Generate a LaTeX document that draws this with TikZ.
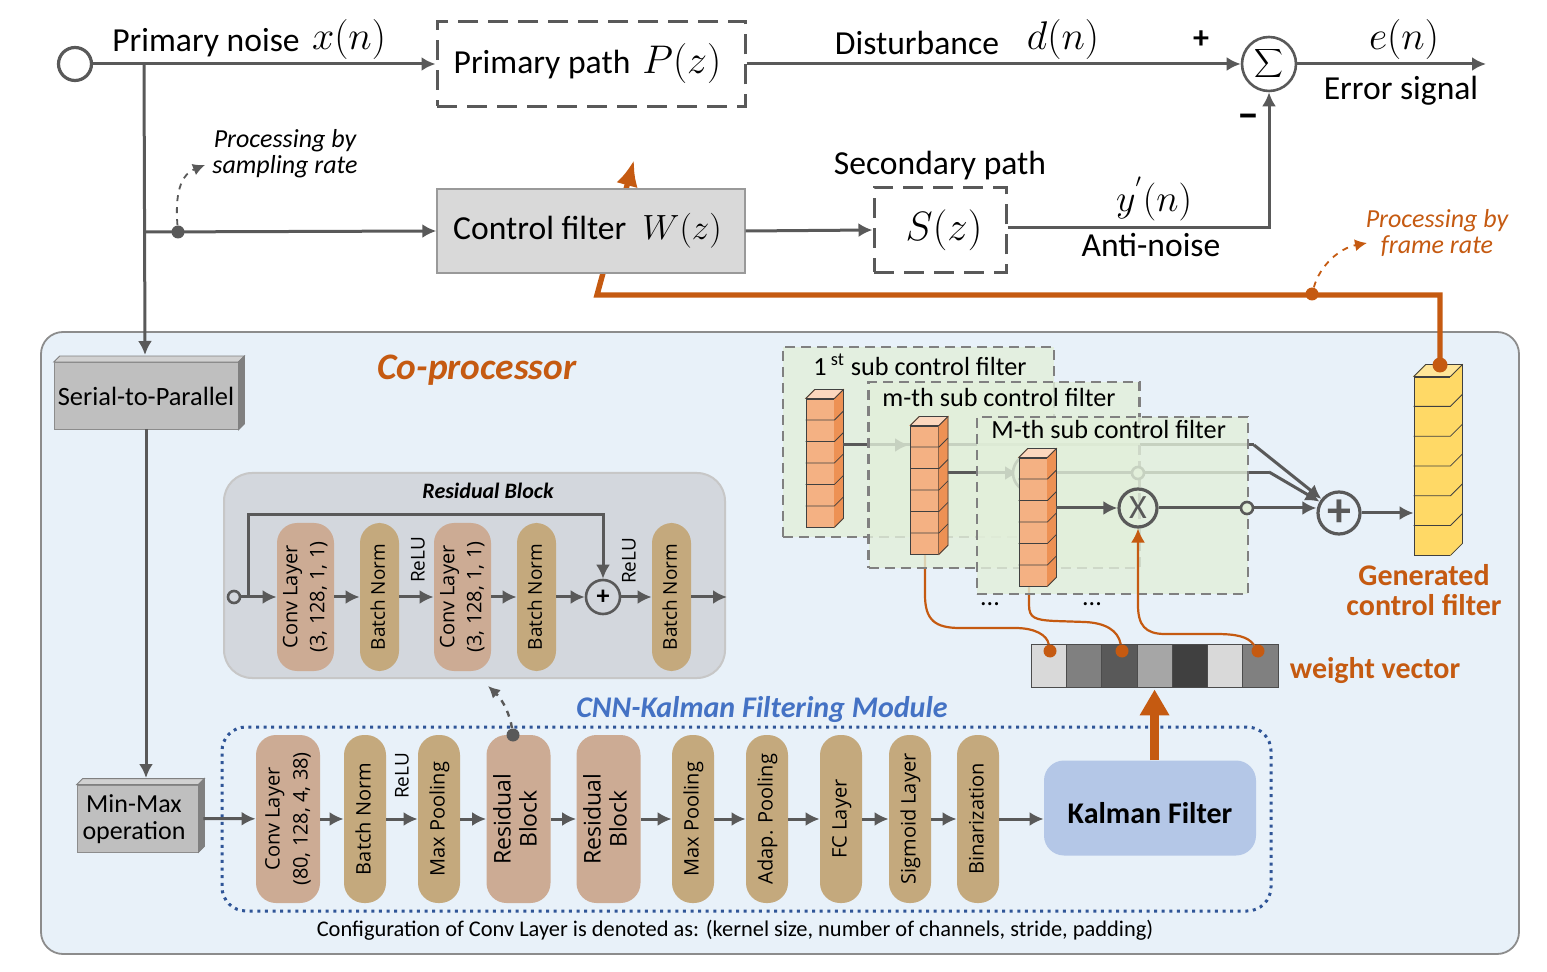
\documentclass[tikz,border=0pt]{standalone}
\usepackage{fix-cm}
\usepackage{fontspec}
\setmainfont{Carlito}
\newfontfamily\pillfont{Open Sans}
\usetikzlibrary{arrows.meta,calc}
\definecolor{myline}{RGB}{89,89,89}
\definecolor{myorange}{RGB}{197,90,17}
\definecolor{myblue}{RGB}{68,114,196}
\definecolor{mydotblue}{RGB}{47,85,151}
\definecolor{mypanel}{RGB}{232,241,249}
\definecolor{myresidual}{RGB}{211,215,221}
\definecolor{mypink}{RGB}{204,171,148}
\definecolor{mytan}{RGB}{196,169,125}
\definecolor{mykalman}{RGB}{180,199,231}
\definecolor{mysub}{RGB}{226,239,218}
\definecolor{mypeach}{RGB}{244,177,131}
\definecolor{mypeachside}{RGB}{237,145,84}
\definecolor{mypeachtop}{RGB}{251,215,190}
\definecolor{myyellow}{RGB}{255,217,102}
\definecolor{myyellowtop}{RGB}{255,230,153}
\newcommand{\widthpill}{21pt}
\newcommand{\widthpillwide}{32pt}
\newcommand{\vlabel}[1]{\rotatebox{90}{\begin{tabular}{@{}c@{}}#1\end{tabular}}}
\newcommand{\slabfaces}[4]{
    \filldraw[draw=#3, fill=#4, thin] (#1.north west) -- ++(#2,-#2) -- ($(#1.north east)+(#2,-#2)$) -- (#1.north east) -- cycle;
    \filldraw[draw=#3, fill=#3, thin] (#1.north east) -- ++(#2,-#2) -- ($(#1.south east)+(#2,-#2)$) -- (#1.south east) -- cycle;
}
\newcommand{\celldividers}[3]{
    \foreach \i in {0,...,5}
        \draw[#3, thin] ($(#1.north west)!\i/6!(#1.south west)$) -- ($(#1.north east)!\i/6!(#1.south east)$) -- ++(#2,-#2);
    \draw[#3, thin] (#1.north west) -- ++(#2,-#2) -- ($(#1.north east)+(#2,-#2)$) -- ($(#1.south east)+(#2,-#2)$) -- (#1.south east);
}
\tikzset{
    textA/.style={font=\fontsize{16.8}{18}\selectfont, inner sep=0pt},
    mathA/.style={font=\fontsize{20}{22}\selectfont, inner sep=0pt},
    flow/.style={myline, line width=1.5pt, -{Latex[length=7pt,width=7pt]}},
    flowthin/.style={myline, line width=1.5pt},
    linkdash/.style={dashed, -{Latex[length=6pt,width=6pt]}},
    pathbox/.style={draw=myline, line width=1.5pt, dash pattern=on 10pt off 5pt, minimum height=42.5pt, inner sep=0pt},
    slab/.style={draw=black!45, fill=black!25, thin, inner sep=0pt},
    pill/.style={rectangle, rounded corners=10pt, minimum height=84pt, inner sep=0pt, font=\pillfont\fontsize{10}{14}\selectfont},
    pink/.style={pill, fill=mypink, minimum width=\widthpillwide},
    tan/.style={pill, fill=mytan, minimum width=\widthpill},
    pinksmall/.style={pink, minimum width=28.5pt, minimum height=74pt, font=\pillfont\fontsize{10}{13.5}\selectfont},
    tansmall/.style={tan, minimum width=19.5pt, minimum height=74pt, font=\pillfont\fontsize{9.5}{13.5}\selectfont},
    relu/.style={rotate=90, inner sep=0pt, font=\pillfont\fontsize{9.5}{12}\selectfont},
    dot/.style={circle, fill=#1, minimum size=6.5pt, inner sep=0pt},
    subbox/.style={draw=black!50, line width=1.2pt, dash pattern=on 5pt off 3pt, fill=mysub, fill opacity=.8, minimum width=135.5pt, inner sep=0pt},
    sublabel/.style={anchor=west, inner sep=0pt, font=\fontsize{13.1}{15}\selectfont},
    column/.style={draw=black!75, thin, minimum width=14pt, minimum height=64pt, inner sep=0pt, fill=mypeach},
    ring/.style={circle, draw=myline, line width=1.3pt, inner sep=0pt},
    orangetext/.style={myorange, font=\bfseries\fontsize{15}{17}\selectfont, align=center, inner sep=0pt},
    curve/.style={myorange, line width=1.1pt},
    weightcell/.style={draw=black!70, thin, minimum width=17.65pt, minimum height=21.5pt, inner sep=0pt}
}
\begin{document}
\begin{tikzpicture}[x=.5pt, y=-.5pt]
    \useasboundingbox (0,0) rectangle (1547,972);

    \node[draw=black!45, line width=.9pt, fill=mypanel, rounded corners=11pt, minimum width=739pt, minimum height=311pt, inner sep=0pt] (coprocessor) at (780,643) {};
    \node[myorange, inner sep=0pt, font=\bfseries\itshape\fontsize{18.7}{20}\selectfont] (coprocessorlabel) at (477,370) {Co-processor};

    \node[circle, draw=myline, line width=1.6pt, minimum size=16.5pt, inner sep=0pt] (start) at (75,64) {};
    \node[textA] (noiselabel) at (206,43) {Primary noise};
    \node[mathA] (noisemath) at (349,40) {$x(n)$};
    \node[pathbox, minimum width=154pt] (primary) at (591,64) {\fontsize{16.8}{18}\selectfont Primary path\hspace{6pt}{\fontsize{20}{22}\selectfont$P(z)$}\hspace{3.5pt}\null};
    \node[textA] (disturbance) at (917,43) {Disturbance};
    \node[mathA] (disturbancemath) at (1063,40) {$d(n)$};
    \node[textA, font=\bfseries\fontsize{16}{18}\selectfont] (pluslabel) at (1201,40) {+};
    \node[textA, font=\bfseries\fontsize{22}{22}\selectfont] (minuslabel) at (1248,121) {--};
    \node[ring, minimum size=27pt, font=\fontsize{12}{14}\selectfont] (sum) at (1269,64) {$\displaystyle\sum$};
    \node[mathA] (errormath) at (1404,40) {$e(n)$};
    \node[textA] (errorlabel) at (1401,91) {Error signal};
    \coordinate (errorend) at (1486,64);
    \node[textA] (secondarylabel) at (940,166) {Secondary path};
    \node[mathA, font=\fontsize{19}{20}\selectfont] (antimath) at (1154,199) {$y^{'}(n)$};
    \node[textA] (antilabel) at (1151,245) {Anti-noise};

    \coordinate (tapnoise) at (144,64);
    \coordinate (tapcontrol) at (144,232);
    \coordinate (serialtop) at (145,355);
    \coordinate (feedin) at (597,295);
    \coordinate (feedtip) at (634,160);
    \node[dot=myorange] (outdot) at (1440,365) {};
    \draw[myorange, line width=2.7pt, -{Latex[length=13pt,width=11pt]}] (outdot) |- (feedin) -- (feedtip);

    \node[draw=black!40, line width=.7pt, fill=black!15, minimum width=154pt, minimum height=42pt, inner sep=0pt] (control) at (591,231) {\fontsize{16.8}{18}\selectfont Control filter\hspace{8pt}{\fontsize{17.5}{20}\selectfont$W(z)$}\hspace{3.5pt}\null};
    \node[pathbox, minimum width=66pt, font=\fontsize{20.5}{22}\selectfont] (secondary) at (940,230) {\hspace{4pt}$S(z)$};

    \draw[flow] (start) -- (primary.west);
    \draw[flow] (primary.east) -- (sum.west);
    \draw[flow] (sum.east) -- (errorend);
    \draw[flow] (tapnoise) -- (serialtop);
    \draw[flow] (tapcontrol) -- (control.west);
    \draw[flow] (control.east) -- (secondary.west);
    \draw[flow] ([yshift=1pt]secondary.east) -| (sum.south);

    \node[dot=myline] (samplingdot) at (178,232) {};
    \coordinate (samplingtip) at (205,165);
    \draw[linkdash, myline, line width=.9pt] (samplingdot) .. controls (175,195) and (180,175) .. (samplingtip);
    \node[inner sep=0pt, align=center, font=\itshape\fontsize{13}{13}\selectfont] (samplinglabel) at (285,154) {Processing by\\sampling rate};

    \node[dot=myorange] (framedot) at (1312,294) {};
    \coordinate (frametip) at (1367,243);
    \draw[linkdash, myorange, line width=.9pt] (framedot) .. controls (1320,265) and (1340,248) .. (frametip);
    \node[myorange, inner sep=0pt, align=center, font=\itshape\fontsize{13}{13}\selectfont] (framelabel) at (1437,233) {Processing by\\frame rate};

    \node[slab, minimum width=92pt, minimum height=33.5pt, font=\fontsize{13.2}{15}\selectfont] (serial) at (146,396) {Serial-to-Parallel};
    \slabfaces{serial}{6}{black!50}{black!18}
    \node[slab, minimum width=60.5pt, minimum height=33.5pt, font=\fontsize{13}{13.5}\selectfont] (minmax) at (137.5,818.5) {\raisebox{-9pt}{\smash{\begin{tabular}[c]{@{}c@{\hspace{3.5pt}}}Min-Max\\operation\end{tabular}}}};
    \slabfaces{minmax}{6}{black!50}{black!18}
    \coordinate (minmaxtop) at (146,778);
    \coordinate (serialout) at (146,429);
    \draw[flow] (serialout) -- (minmaxtop);

    \node[draw=black!22, line width=1pt, fill=myresidual, rounded corners=14pt, minimum width=250.5pt, minimum height=102.5pt, inner sep=0pt] (residual) at (474.5,575.5) {};
    \node[inner sep=0pt, font=\bfseries\itshape\fontsize{11}{13}\selectfont] (residuallabel) at (488,491) {Residual Block};
    \path
        (305.5,597) node[pinksmall] (rconvA) {\vlabel{Conv Layer\\(3, 128, 1, 1)}}
        ++(74,0) node[tansmall] (rnormA) {\vlabel{Batch Norm}}
        ++(83,0) node[pinksmall] (rconvB) {\vlabel{Conv Layer\\(3, 128, 1, 1)}}
        ++(74,0) node[tansmall] (rnormB) {\vlabel{Batch Norm}}
        ++(135,0) node[tansmall] (rnormC) {\vlabel{Batch Norm}};
    \node[relu] (rreluA) at (418,560) {ReLU};
    \node[relu] (rreluB) at (629,561) {ReLU};
    \node[ring, fill=myresidual, minimum size=17pt, font=\bfseries\fontsize{13}{14}\selectfont] (rplus) at (603,597) {+};
    \node[ring, fill=myresidual, minimum size=6pt] (rstart) at (234,597) {};
    \coordinate (rend) at (727,597);
    \coordinate (rskip) at (248,597);
    \draw[flow] (rstart) -- (rconvA);
    \foreach \from/\to in {rconvA/rnormA, rnormA/rconvB, rconvB/rnormB, rnormB/rplus, rplus/rnormC, rnormC/rend}
        \draw[flow] (\from) -- (\to);
    \draw[flow] (rskip) -- ++(0,-82) -| (rplus.north);

    \node[myblue, inner sep=0pt, font=\bfseries\itshape\fontsize{15}{18}\selectfont] (cnnlabel) at (762,710) {CNN-Kalman Filtering Module};
    \node[draw=mydotblue, line width=1.5pt, dash pattern=on 1.5pt off 2.3pt, rounded corners=12pt, minimum width=524.5pt, minimum height=92pt, inner sep=0pt] (cnn) at (746.5,819) {};
    \path
        (288,819) node[pink] (conv) {\vlabel{Conv Layer\\(80, 128, 4, 38)}}
        ++(77,0) node[tan] (norm) {\vlabel{Batch Norm}}
        ++(74,0) node[tan] (maxA) {\vlabel{Max Pooling}}
        ++(79.5,0) node[pink, font=\pillfont\fontsize{11.5}{13}\selectfont] (blockA) {\vlabel{Residual\\Block}}
        ++(90,0) node[pink, font=\pillfont\fontsize{11.5}{13}\selectfont] (blockB) {\vlabel{Residual\\Block}}
        ++(84.5,0) node[tan] (maxB) {\vlabel{Max Pooling}}
        ++(74,0) node[tan] (adap) {\vlabel{Adap. Pooling}}
        ++(74,0) node[tan] (fc) {\vlabel{FC Layer}}
        ++(69,0) node[tan] (sigmoid) {\vlabel{Sigmoid Layer}}
        ++(68,0) node[tan] (binary) {\vlabel{Binarization}};
    \node[relu] (relu) at (402,776) {ReLU};
    \node[fill=mykalman, rounded corners=10pt, minimum width=106pt, minimum height=47.5pt, inner sep=0pt, font=\bfseries\fontsize{15}{18}\selectfont] (kalman) at (1150,808) {\raisebox{-15.5pt}{\smash{Kalman Filter}}};
    \draw[flow] ([xshift=2.5pt]minmax.east) -- (conv);
    \foreach \from/\to in {conv/norm, norm/maxA, maxA/blockA, blockA/blockB, blockB/maxB, maxB/adap, adap/fc, fc/sigmoid, sigmoid/binary}
        \draw[flow] (\from) -- (\to);
    \draw[flow] (binary) -- (kalman.west |- binary);
    \node[dot=myline] (blockdot) at (513,735) {};
    \coordinate (blocktip) at (488,686);
    \draw[linkdash, myline, line width=1.2pt] (blockdot) .. controls (510,715) and (503,700) .. (blocktip);
    \node[inner sep=0pt, font=\fontsize{11.2}{14}\selectfont] (configlabel) at (735,930) {Configuration of Conv Layer is denoted as: (kernel size, number of channels, stride, padding)};

    \foreach \shade [count=\i] in {15,50,65,35,75,15,50}
        \node[weightcell, fill=black!\shade] (w\i) at ({1013.35+35.3*\i},665.5) {};
    \draw[myorange, line width=4.5pt, shorten >=1pt, -{Triangle[length=13pt,width=14pt]}] (kalman.north -| w4.south) -- (w4.south);
    \node[dot=myorange] (wdotA) at (1050,651) {};
    \node[dot=myorange] (wdotB) at (1122,651) {};
    \node[dot=myorange] (wdotC) at (1258,651) {};
    \node[orangetext] (weightlabel) at (1375,671) {weight vector};
    \node[orangetext, font=\bfseries\fontsize{15}{15}\selectfont] (generatedlabel) at (1424,590) {Generated\\control filter};

    \coordinate (tapm) at (925,554);
    \coordinate (tapM) at (1029,586);
    \coordinate (outone) at (843,445);
    \coordinate (tipone) at (909,445);
    \coordinate (outm) at (948,473);
    \coordinate (tipm) at (1019,473);
    \coordinate (linkone) at (1254,445);
    \coordinate (linkm) at (1269,472);
    \node[ring, line width=1.6pt, minimum size=21pt, text=myline, font=\bfseries\fontsize{24}{24}\selectfont] (plus) at (1339,513) {+};

    \node[subbox, minimum height=95pt] (boxone) at (918.5,442) {};
    \node[sublabel] (labelone) at (813,365) {1\textsuperscript{ st} sub control filter};
    \node[column] (colone) at (820,463) {};
    \slabfaces{colone}{9}{mypeachside}{mypeachtop}
    \celldividers{colone}{9}{black!75}
    \draw[flow] (outone) -- (tipone);
    \draw[flowthin] (outone) -- (linkone);
    \draw[flow] (linkone) -- (plus);
    \draw[curve] (tapm) -- (925,595) .. controls (925,620) and (935,628) .. (960,628) -- (1015,628) .. controls (1035,628) and (1047,635) .. (wdotA);

    \node[subbox, minimum height=93pt] (boxm) at (1004,475) {};
    \node[sublabel] (labelm) at (882,398) {m-th sub control filter};
    \node[column] (colm) at (924.5,490) {};
    \slabfaces{colm}{9}{mypeachside}{mypeachtop}
    \celldividers{colm}{9}{black!75}
    \draw[flow] (outm) -- (tipm);
    \draw[flowthin] (outm) -- (linkm |- outm) -- (linkm);
    \draw[flow] (linkm) -- (plus);
    \node[ring, minimum size=19pt, fill=mysub] (xm) at (1032,473) {};
    \node[ring, minimum size=6pt, fill=mysub] (junctionm) at (1138,473) {};
    \draw[curve] (tapM) -- (1029,605) .. controls (1029,618) and (1035,620) .. (1055,621) -- (1085,622) .. controls (1105,623) and (1118,630) .. (wdotB);

    \node[subbox, minimum height=88.5pt] (boxM) at (1112.5,505.5) {};
    \node[sublabel] (labelM) at (991,430) {M-th sub control filter};
    \node[column] (colM) at (1033,522) {};
    \slabfaces{colM}{9}{mypeachside}{mypeachtop}
    \celldividers{colM}{9}{black!75}
    \node[ring, line width=1.6pt, minimum size=19pt, text=myline, font=\fontsize{17}{18}\selectfont] (times) at (1138,508) {X};
    \coordinate (outM) at (1056,508);
    \node[ring, minimum size=6pt, fill=mysub] (junctionM) at (1247,508) {};
    \draw[flow] (outM) -- (times);
    \draw[flowthin] (times) -- (junctionM);
    \draw[flow] (junctionM) -- ([yshift=2.5pt]plus.west);
    \draw[curve, -{Latex[length=7pt,width=7pt]}] (wdotC) .. controls (1248,636) and (1235,634) .. (1215,634) -- (1165,634) .. controls (1145,634) and (1138,625) .. (1138,605) -- (times);

    \node[column, minimum width=18pt, minimum height=89pt, fill=myyellow] (colout) at (1432,466) {};
    \slabfaces{colout}{12}{myyellow}{myyellowtop}
    \celldividers{colout}{12}{black!75}
    \draw[flow] (plus) -- (plus -| colout.west);
    \node[dot=myorange, minimum size=7.5pt] (outdottop) at (1440,365) {};

    \node[inner sep=0pt, font=\fontsize{13}{14}\selectfont] (dotsA) at (990,604) {...};
    \node[inner sep=0pt, font=\fontsize{13}{14}\selectfont] (dotsB) at (1092,604) {...};
\end{tikzpicture}
\end{document}
